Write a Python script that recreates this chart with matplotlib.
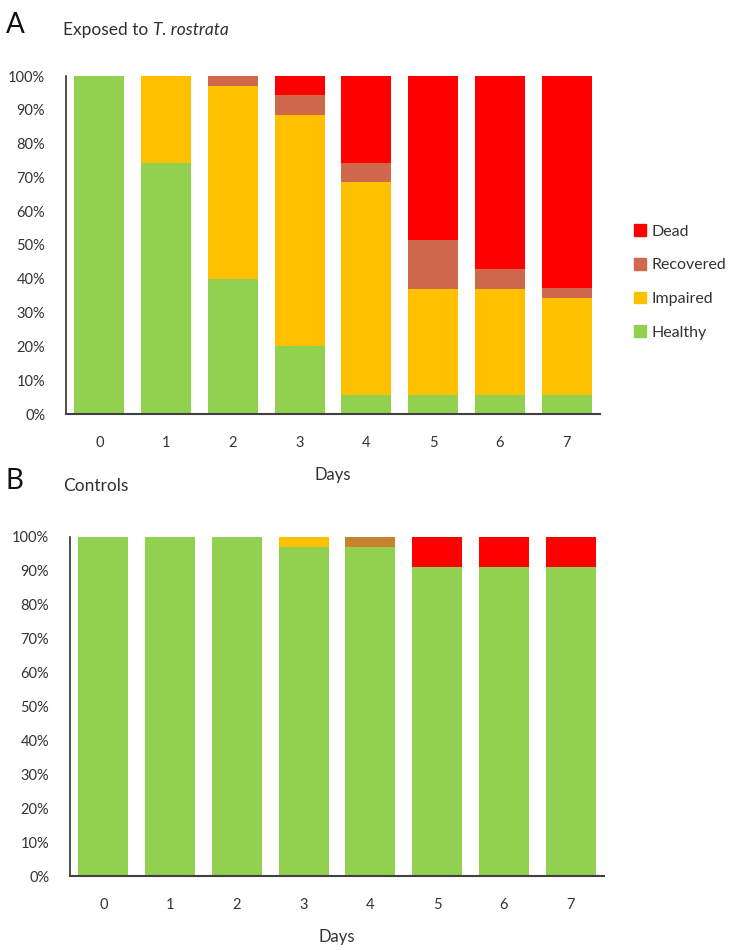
"""Stacked bar charts of fish condition over days: exposed vs. controls."""
import matplotlib.pyplot as plt
from matplotlib.patches import Patch
from matplotlib.ticker import PercentFormatter

plt.rcParams["font.family"] = ["Lato", "DejaVu Sans"]

days = [0, 1, 2, 3, 4, 5, 6, 7]
categories = ["Healthy", "Impaired", "Recovered", "Dead"]

# panel A: exposed to T. rostrata (percent of fish)
exposed_healthy = [100, 74.3, 40.0, 20.0, 5.7, 5.7, 5.7, 5.7]
exposed_impaired = [0, 25.7, 57.1, 68.6, 62.9, 31.4, 31.4, 28.6]
exposed_recovered = [0, 0, 2.9, 5.7, 5.7, 14.3, 5.7, 2.9]
exposed_dead = [0, 0, 0, 5.7, 25.7, 48.6, 57.2, 62.8]

# panel B: controls
control_healthy = [100, 100, 100, 97.1, 97.1, 91.2, 91.2, 91.2]
control_impaired = [0, 0, 0, 2.9, 0, 0, 0, 0]
control_recovered = [0, 0, 0, 0, 2.9, 0, 0, 0]
control_dead = [0, 0, 0, 0, 0, 8.8, 8.8, 8.8]

COLORS = {
    "Healthy": "#92D050",
    "Impaired": "#FFC000",
    "Recovered": "#D0684C",
    "Dead": "#FF0000",
}
TEXT = "#333333"


def stacked(ax, series, recovered_color):
    bottom = [0.0] * len(days)
    for name, vals in zip(categories, series):
        color = recovered_color if name == "Recovered" else COLORS[name]
        ax.bar(days, vals, bottom=bottom, width=0.75, color=color, linewidth=0)
        bottom = [b + v for b, v in zip(bottom, vals)]

    ax.set_xlim(-0.5, 7.5)
    ax.set_ylim(0, 100)
    ax.set_yticks(range(0, 101, 10))
    ax.yaxis.set_major_formatter(PercentFormatter(decimals=0))
    ax.set_xticks(days)
    ax.tick_params(length=0, labelsize=10.5, colors=TEXT)
    ax.tick_params(axis="x", pad=16)
    ax.tick_params(axis="y", pad=15)
    for side in ("top", "right"):
        ax.spines[side].set_visible(False)
    ax.spines["left"].set_color("#303030")
    ax.spines["bottom"].set_color("#404040")
    ax.spines["left"].set_linewidth(1.2)
    ax.spines["bottom"].set_linewidth(1.5)
    ax.set_xlabel("Days", fontsize=12, color=TEXT, labelpad=12)


def panel_title(fig, letter, y, plain, italic=None):
    fig.text(6 / W, 1 - (y - 5) / H, letter, fontsize=20, va="center", color="#111111")
    t = fig.text(63 / W, 1 - y / H, plain, fontsize=12.5, va="center", color="#303030")
    if italic:
        fig.canvas.draw()
        bb = t.get_window_extent()
        fig.text(bb.x1 / W, 1 - y / H, italic, fontsize=12.5, va="center",
                 style="italic", color="#303030")


fig = plt.figure(figsize=(7.37, 9.5), dpi=100)
W, H = 737, 950

ax_a = fig.add_axes([66 / W, 1 - 414 / H, 534 / W, 338 / H])
stacked(ax_a, [exposed_healthy, exposed_impaired, exposed_recovered, exposed_dead],
        COLORS["Recovered"])

ax_b = fig.add_axes([70 / W, 1 - 876 / H, 534 / W, 339 / H])
stacked(ax_b, [control_healthy, control_impaired, control_recovered, control_dead],
        "#C8832F")

panel_title(fig, "A", 30, "Exposed to ", "T. rostrata")
panel_title(fig, "B", 486, "Controls")

handles = [Patch(color=COLORS[c]) for c in ["Dead", "Recovered", "Impaired", "Healthy"]]
fig.legend(handles, ["Dead", "Recovered", "Impaired", "Healthy"],
           loc="center left", bbox_to_anchor=(620 / W, 1 - 282 / H),
           frameon=False, fontsize=11.5, handlelength=0.75, handleheight=0.75,
           handletextpad=0.35, labelspacing=1.2, labelcolor=TEXT)

fig.savefig("out.png", dpi=100)
